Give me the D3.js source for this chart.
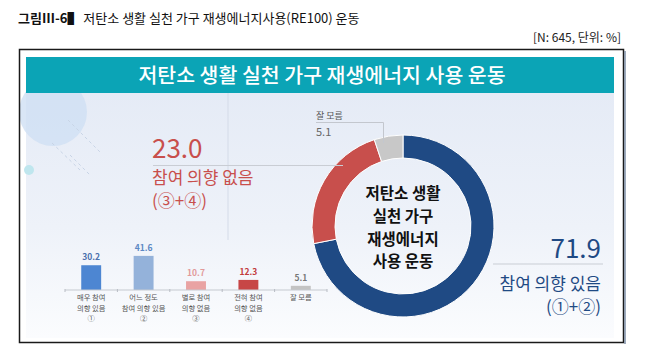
<!DOCTYPE html>
<html>
<head>
<meta charset="utf-8">
<script src="https://cdn.jsdelivr.net/npm/d3@7"></script>
<style>
  body { margin: 0; background: #fff; }
  text { font-family: "Noto Sans CJK KR", "Noto Sans", sans-serif; }
</style>
</head>
<body>
<div id="chart"></div>
<script>
// bar chart data
const barCategories = ["매우 참여 의향 있음", "어느 정도 참여 의향 있음", "별로 참여 의향 없음", "전혀 참여 의향 없음", "잘 모름"];
const barLabelLines = [
    ["매우 참여", "의향 있음", "①"],
    ["어느 정도", "참여 의향 있음", "②"],
    ["별로 참여", "의향 없음", "③"],
    ["전혀 참여", "의향 없음", "④"],
    ["잘 모름"]
];
const barValues = [30.2, 41.6, 10.7, 12.3, 5.1];
const barColors = ["#4d86d2", "#94b2da", "#e9a3a3", "#c74646", "#c3c3c3"];
const barTextColors = ["#4a70ad", "#5d88c4", "#e29a9a", "#c23a3a", "#777"];

// donut data
const donutCategories = ["참여 의향 있음", "참여 의향 없음", "잘 모름"];
const donutValues = [71.9, 23.0, 5.1];
const donutColors = ["#1f4a84", "#c84f4c", "#c8c8c8"];
const donutTitle = ["저탄소 생활", "실천 가구", "재생에너지", "사용 운동"];

const W = 647, H = 362;
const svg = d3.select("#chart").append("svg")
    .attr("width", W)
    .attr("height", H);

// caption above the frame
const cap = svg.append("text").attr("x", 18).attr("y", 23)
    .attr("font-size", 13).attr("fill", "#111");
cap.append("tspan").attr("font-weight", "bold").text("그림Ⅲ-6▌ ");
cap.append("tspan").text("저탄소 생활 실천 가구 재생에너지사용(RE100) 운동");

svg.append("text")
    .attr("x", 621).attr("y", 42)
    .attr("text-anchor", "end")
    .attr("font-size", 12).attr("fill", "#222")
    .text("[N: 645, 단위: %]");

// panel background
const defs = svg.append("defs");
const grad = defs.append("linearGradient").attr("id", "bg").attr("x1", 0).attr("y1", 0).attr("x2", 0).attr("y2", 1);
grad.append("stop").attr("offset", "0%").attr("stop-color", "#e5ebf6");
grad.append("stop").attr("offset", "55%").attr("stop-color", "#eef2f9");
grad.append("stop").attr("offset", "100%").attr("stop-color", "#fbfcfe");

svg.append("rect").attr("x", 26).attr("y", 93).attr("width", 588).attr("height", 245)
    .attr("fill", "url(#bg)");

// decorative shapes top-left
svg.append("circle").attr("cx", 53).attr("cy", 112).attr("r", 34)
    .attr("fill", "#cfe0f4").attr("opacity", 0.8);
svg.append("circle").attr("cx", 29).attr("cy", 170).attr("r", 5)
    .attr("fill", "#bfe6ee");
[[68, 120, 100, 152], [52, 143, 80, 170], [70, 155, 90, 175]].forEach(l => {
    svg.append("line").attr("x1", l[0]).attr("y1", l[1]).attr("x2", l[2]).attr("y2", l[3])
        .attr("stroke", "#c8d4e6").attr("stroke-width", 1).attr("stroke-dasharray", "3,3");
});
svg.append("line").attr("x1", 228).attr("y1", 93).attr("x2", 228).attr("y2", 240)
    .attr("stroke", "#d4dbe8").attr("stroke-width", 1);

// teal header
svg.append("rect").attr("x", 26).attr("y", 57).attr("width", 588).attr("height", 36)
    .attr("fill", "#0ba4b6");
svg.append("text")
    .attr("x", 322).attr("y", 83)
    .attr("text-anchor", "middle")
    .attr("font-size", 20.5).attr("font-weight", 500).attr("fill", "#fff")
    .text("저탄소 생활 실천 가구 재생에너지 사용 운동");

// outer frame
svg.append("rect").attr("x", 19.5).attr("y", 49.5).attr("width", 604).attr("height", 293)
    .attr("fill", "none").attr("stroke", "#1a1a1a").attr("stroke-width", 1.5);
svg.append("line").attr("x1", 625).attr("y1", 51).attr("x2", 625).attr("y2", 344)
    .attr("stroke", "#7d8ea6").attr("stroke-width", 1.5);

// ---- bar chart ----
const x = d3.scaleBand()
    .domain(barCategories)
    .range([65, 327])
    .paddingInner(0.62)
    .paddingOuter(0.31);

const y = d3.scaleLinear()
    .domain([0, 50])
    .range([290, 249]);

const bars = svg.append("g");

bars.selectAll(".bar")
    .data(barValues)
    .enter()
    .append("rect")
    .attr("class", "bar")
    .attr("x", (d, i) => x(barCategories[i]))
    .attr("y", d => y(d))
    .attr("width", x.bandwidth())
    .attr("height", d => y(0) - y(d))
    .attr("fill", (d, i) => barColors[i]);

bars.selectAll(".val")
    .data(barValues)
    .enter()
    .append("text")
    .attr("class", "val")
    .attr("x", (d, i) => x(barCategories[i]) + x.bandwidth() / 2)
    .attr("y", d => y(d) - 5)
    .attr("text-anchor", "middle")
    .attr("font-size", 8.5)
    .attr("font-weight", "bold")
    .attr("fill", (d, i) => barTextColors[i])
    .text(d => d.toFixed(1));

// axis line with boundary ticks
bars.append("line").attr("x1", 65).attr("x2", 327).attr("y1", 290).attr("y2", 290)
    .attr("stroke", "#c6c9cf").attr("stroke-width", 1.2);
d3.range(6).forEach(k => {
    const tx = 65 + k * (262 / 5);
    bars.append("line").attr("x1", tx).attr("x2", tx).attr("y1", 289).attr("y2", 292)
        .attr("stroke", "#b8bcc4");
});

// category labels, one text block per bar
barLabelLines.forEach((lines, i) => {
    const cx = x(barCategories[i]) + x.bandwidth() / 2;
    const t = bars.append("text")
        .attr("x", cx).attr("y", 300)
        .attr("text-anchor", "middle")
        .attr("font-size", 7.3)
        .attr("fill", "#555");
    lines.forEach((s, j) => {
        t.append("tspan").attr("x", cx).attr("dy", j === 0 ? 0 : 10.6).text(s);
    });
});

// ---- donut ----
const cx = 403, cy = 226;
const pie = d3.pie().sort(null).value(d => d)(donutValues);
const arc = d3.arc().innerRadius(68).outerRadius(91);

svg.append("g").attr("transform", `translate(${cx},${cy})`)
    .selectAll("path")
    .data(pie)
    .enter()
    .append("path")
    .attr("d", arc)
    .attr("fill", (d, i) => donutColors[i])
    .attr("stroke", "#fff")
    .attr("stroke-width", 1);

const centerText = svg.append("text")
    .attr("x", cx).attr("y", 199)
    .attr("text-anchor", "middle")
    .attr("font-size", 15.5).attr("font-weight", "bold").attr("fill", "#111");
donutTitle.forEach((s, i) => {
    centerText.append("tspan").attr("x", cx).attr("dy", i === 0 ? 0 : 22.8).text(s);
});

// red callout (참여 의향 없음)
svg.append("line").attr("x1", 153).attr("x2", 343).attr("y1", 165.5).attr("y2", 165.5)
    .attr("stroke", "#c9cdd4").attr("stroke-width", 1);
svg.append("text").attr("x", 152).attr("y", 158)
    .attr("font-size", 26).attr("fill", donutColors[1])
    .text(donutValues[1].toFixed(1));
const redLbl = svg.append("text").attr("x", 152).attr("y", 184)
    .attr("font-size", 17).attr("fill", donutColors[1]);
redLbl.append("tspan").attr("x", 152).text(donutCategories[1]);
redLbl.append("tspan").attr("x", 152).attr("dy", 23).text("(③+④)");

// gray callout (잘 모름)
svg.append("path")
    .attr("d", "M316,122.5 H383.5 V143")
    .attr("fill", "none").attr("stroke", "#c3c7ce").attr("stroke-width", 1);
svg.append("text").attr("x", 316).attr("y", 119)
    .attr("font-size", 9).attr("fill", "#555")
    .text(donutCategories[2]);
svg.append("text").attr("x", 316).attr("y", 136)
    .attr("font-size", 11).attr("fill", "#666")
    .text(donutValues[2].toFixed(1));

// navy callout (참여 의향 있음)
svg.append("line").attr("x1", 493).attr("x2", 603).attr("y1", 264).attr("y2", 264)
    .attr("stroke", "#c9cdd4").attr("stroke-width", 1);
svg.append("text").attr("x", 601).attr("y", 258)
    .attr("text-anchor", "end")
    .attr("font-size", 26).attr("fill", donutColors[0])
    .text(donutValues[0].toFixed(1));
const navyLbl = svg.append("text").attr("x", 601).attr("y", 290)
    .attr("text-anchor", "end")
    .attr("font-size", 17).attr("fill", donutColors[0]);
navyLbl.append("tspan").attr("x", 601).text(donutCategories[0]);
navyLbl.append("tspan").attr("x", 601).attr("dy", 23).text("(①+②)");
</script>
</body>
</html>
